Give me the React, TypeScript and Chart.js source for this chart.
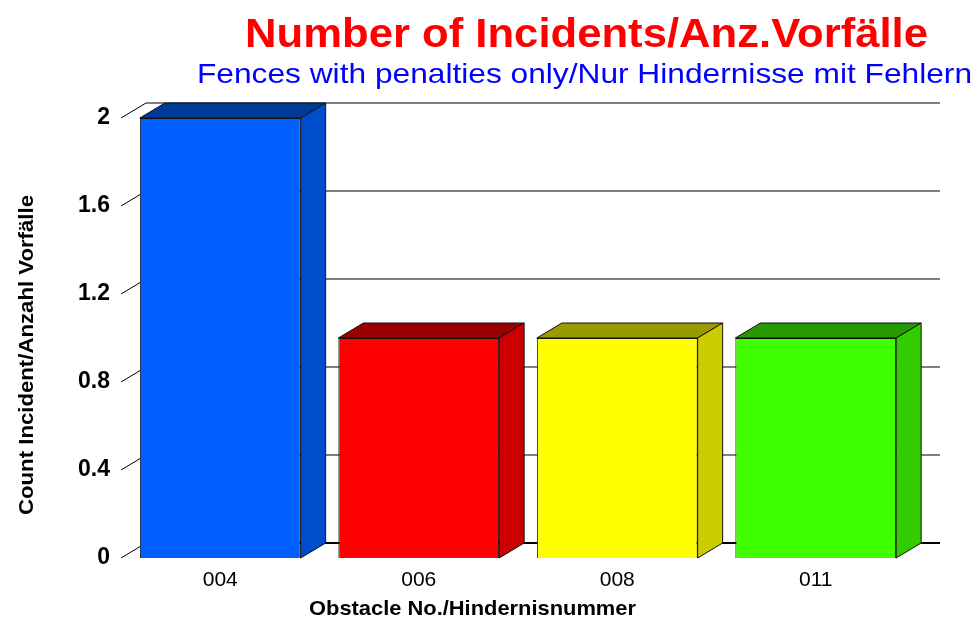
import React, { useEffect, useRef } from "react";
import { Chart, registerables } from "chart.js";

Chart.register(...registerables);

const categories = ["004", "006", "008", "011"];
const counts = [2, 1, 1, 1];
const frontColors = ["#0060FF", "#FF0000", "#FFFF00", "#40FF00"];
const sideColors = ["#004DCC", "#CC0000", "#CCCC00", "#33CC00"];
const topColors = ["#003A99", "#990000", "#999900", "#269900"];
const yTicks = [0, 0.4, 0.8, 1.2, 1.6, 2];
const yTickLabels = ["0", "0.4", "0.8", "1.2", "1.6", "2"];
const titleText = "Number of Incidents/Anz.Vorfälle";
const subtitleText = "Fences with penalties only/Nur Hindernisse mit Fehlern";
const xTitleText = "Obstacle No./Hindernisnummer";
const yTitleText = "Count Incident/Anzahl Vorfälle";

const DX = 25;
const DY = 15;
const FONT = "'Liberation Sans', Arial, Helvetica, sans-serif";

function fitText(ctx: CanvasRenderingContext2D, text: string, font: string, cx: number, cy: number, targetW: number, rot = 0) {
  ctx.save();
  ctx.font = font;
  const w = ctx.measureText(text).width;
  const sx = targetW / w;
  ctx.translate(cx, cy);
  if (rot) ctx.rotate(rot);
  ctx.scale(sx, 1);
  ctx.textAlign = "center";
  ctx.textBaseline = "alphabetic";
  ctx.fillText(text, 0, 0);
  ctx.restore();
}

const threeD = {
  id: "threeD",
  beforeDatasetsDraw(chart: any) {
    const { ctx, chartArea, scales } = chart;
    const y = scales.y;
    ctx.save();
    ctx.strokeStyle = "#000";
    yTicks.forEach((v) => {
      const py = y.getPixelForValue(v);
      ctx.lineWidth = v === 0 ? 2 : 1;
      ctx.beginPath();
      ctx.moveTo(chartArea.left + DX, py - DY);
      ctx.lineTo(chartArea.right + DX, py - DY);
      ctx.stroke();
      ctx.lineWidth = 1;
      ctx.beginPath();
      ctx.moveTo(chartArea.left, py);
      ctx.lineTo(chartArea.left + DX, py - DY);
      ctx.stroke();
    });
    ctx.restore();
  },
  afterDatasetsDraw(chart: any) {
    const ctx = chart.ctx;
    const meta = chart.getDatasetMeta(0);
    ctx.save();
    ctx.strokeStyle = "#111";
    ctx.lineWidth = 1;
    ctx.lineJoin = "miter";
    meta.data.forEach((bar: any, i: number) => {
      const { x, y, base, width } = bar.getProps(["x", "y", "base", "width"], true);
      const l = x - width / 2;
      const r = x + width / 2;
      ctx.beginPath();
      ctx.moveTo(l, y);
      ctx.lineTo(l + DX, y - DY);
      ctx.lineTo(r + DX, y - DY);
      ctx.lineTo(r, y);
      ctx.closePath();
      ctx.fillStyle = topColors[i];
      ctx.fill();
      ctx.stroke();
      ctx.beginPath();
      ctx.moveTo(r, y);
      ctx.lineTo(r + DX, y - DY);
      ctx.lineTo(r + DX, base - DY);
      ctx.lineTo(r, base);
      ctx.closePath();
      ctx.fillStyle = sideColors[i];
      ctx.fill();
      ctx.stroke();
    });
    ctx.restore();
  },
  afterDraw(chart: any) {
    const ctx = chart.ctx;
    ctx.save();
    ctx.fillStyle = "#FF0000";
    fitText(ctx, titleText, `bold 41px ${FONT}`, 586.5, 47, 683);
    ctx.fillStyle = "#0000FF";
    fitText(ctx, subtitleText, `28px ${FONT}`, 584.5, 83, 775);
    ctx.fillStyle = "#000";
    fitText(ctx, xTitleText, `bold 21px ${FONT}`, 472.5, 615, 327);
    fitText(ctx, yTitleText, `bold 21px ${FONT}`, 33, 355, 320, -Math.PI / 2);
    ctx.restore();
  },
};

export default function App() {
  const ref = useRef<HTMLCanvasElement | null>(null);
  useEffect(() => {
    if (!ref.current) return;
    const chart = new Chart(ref.current, {
      type: "bar",
      data: {
        labels: categories,
        datasets: [
          {
            data: counts,
            backgroundColor: frontColors,
            borderColor: "#111",
            borderWidth: 1,
            barPercentage: 0.81,
            categoryPercentage: 1,
            clip: false as any,
          },
        ],
      },
      options: {
        animation: false,
        responsive: false,
        maintainAspectRatio: false,
        layout: { padding: { left: 0, top: 118, right: 64, bottom: 0 } },
        plugins: {
          legend: { display: false },
          title: { display: false },
          tooltip: { enabled: false },
        },
        scales: {
          x: {
            grid: { display: false, drawTicks: false },
            border: { display: false },
            ticks: {
              color: "#000",
              font: { family: FONT, size: 21 },
              padding: 10,
            },
            afterFit: (s: any) => {
              s.height = 67;
            },
          },
          y: {
            min: 0,
            max: 2,
            grid: { display: false, drawTicks: false },
            border: { display: false },
            afterBuildTicks: (s: any) => {
              s.ticks = yTicks.map((v) => ({ value: v }));
            },
            ticks: {
              color: "#000",
              font: { family: FONT, size: 23, weight: "bold" },
              padding: 11,
              callback: (v: any) => {
                const idx = yTicks.findIndex((t) => Math.abs(t - Number(v)) < 1e-9);
                return idx >= 0 ? yTickLabels[idx] : "";
              },
            },
            afterFit: (s: any) => {
              s.width = 121;
            },
          },
        },
      },
      plugins: [threeD],
    });
    return () => chart.destroy();
  }, []);
  return (
    <div style={{ position: "fixed", left: 0, top: 0, width: 979, height: 625, background: "#fff" }}>
      <canvas ref={ref} width={979} height={625} style={{ display: "block", width: 979, height: 625 }} />
    </div>
  );
}
